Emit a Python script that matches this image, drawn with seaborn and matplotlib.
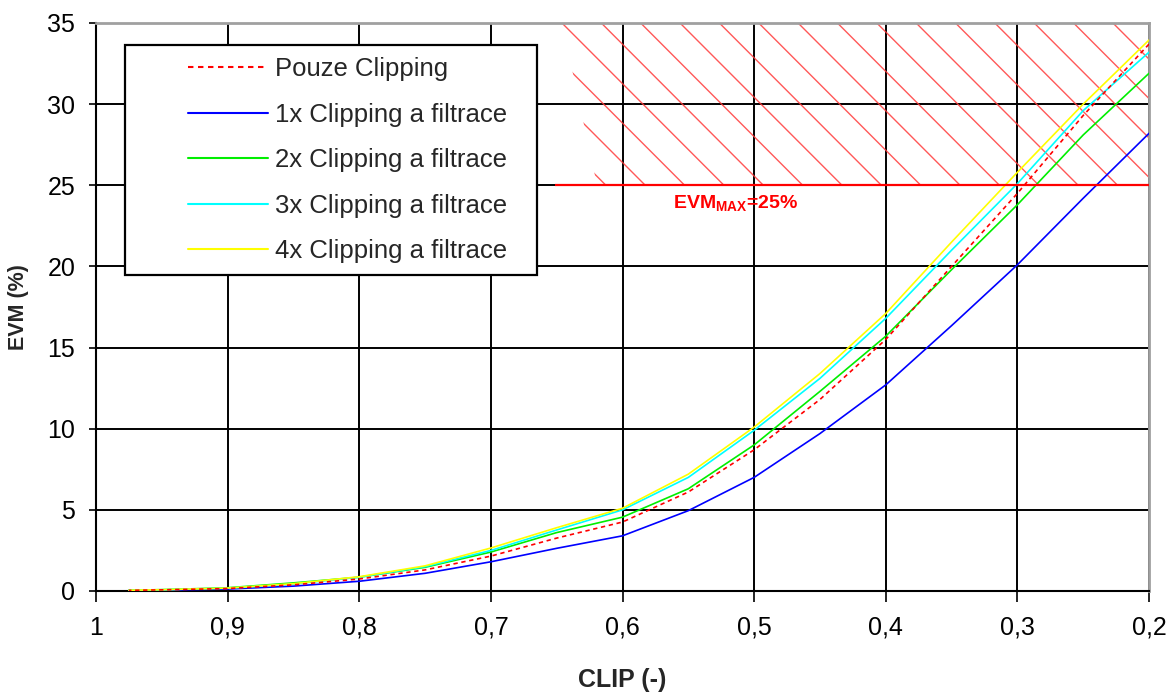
import numpy as np
import pandas as pd
import matplotlib
matplotlib.use("Agg")
import matplotlib.pyplot as plt
from matplotlib.patches import Rectangle, Polygon
from matplotlib.lines import Line2D
from matplotlib.ticker import FuncFormatter, MultipleLocator
import seaborn as sns

# --- data -------------------------------------------------------------
clip = [0.975, 0.95, 0.90, 0.85, 0.80, 0.75, 0.70, 0.65, 0.60,
        0.55, 0.50, 0.45, 0.40, 0.35, 0.30, 0.25, 0.20]

evm_clip_only = [0.04, 0.07, 0.15, 0.38, 0.74, 1.30, 2.15, 3.26, 4.25,
                 6.10, 8.70, 11.8, 15.5, 20.0, 24.5, 29.3, 33.7]
evm_1x = [0.03, 0.05, 0.12, 0.30, 0.60, 1.09, 1.80, 2.63, 3.40,
          4.95, 7.00, 9.70, 12.7, 16.35, 20.1, 24.2, 28.2]
evm_2x = [0.05, 0.08, 0.20, 0.50, 0.85, 1.46, 2.40, 3.60, 4.55,
          6.30, 9.00, 12.3, 15.7, 19.8, 23.8, 28.1, 31.9]
evm_3x = [0.05, 0.08, 0.17, 0.43, 0.85, 1.50, 2.50, 3.76, 5.00,
          7.00, 9.90, 13.1, 16.8, 21.0, 25.1, 29.6, 33.2]
evm_4x = [0.05, 0.08, 0.18, 0.45, 0.88, 1.55, 2.65, 3.90, 5.10,
          7.20, 10.1, 13.4, 17.1, 21.5, 25.8, 30.0, 33.95]

series_names = ["Pouze Clipping", "1x Clipping a filtrace", "2x Clipping a filtrace",
                "3x Clipping a filtrace", "4x Clipping a filtrace"]
series_values = [evm_clip_only, evm_1x, evm_2x, evm_3x, evm_4x]
series_colors = ["#ff0000", "#0000ff", "#00ee00", "#00ffff", "#ffff00"]

evm_max = 25               # EVM limit (%)
limit_clip = (0.651, 0.2)  # CLIP range of the forbidden zone
y_range = (0, 35)

xticks = [1.0, 0.9, 0.8, 0.7, 0.6, 0.5, 0.4, 0.3, 0.2]

# --- style ------------------------------------------------------------
sns.set_theme(style="white")
plt.rcParams["font.family"] = ["Liberation Sans", "DejaVu Sans"]
plt.rcParams["mathtext.fontset"] = "custom"
plt.rcParams["mathtext.rm"] = "Liberation Sans:bold"
plt.rcParams["mathtext.default"] = "rm"

W, H = 1173, 693
fig = plt.figure(figsize=(W / 100, H / 100), dpi=100)
fig.patch.set_facecolor("white")
ax = fig.add_axes([96 / W, (H - 591) / H, 1053 / W, 568 / H])
ax.set_facecolor("white")

df = pd.DataFrame({name: vals for name, vals in zip(series_names, series_values)})
df["clip"] = clip
long = df.melt(id_vars="clip", var_name="series", value_name="evm")

dash = (0, (2.6, 2.2))
# solid curves first, dashed reference curve on top
for i in [1, 2, 3, 4, 0]:
    sub = long[long["series"] == series_names[i]]
    sns.lineplot(data=sub, x="clip", y="evm", color=series_colors[i],
                 linewidth=1.2, linestyle=dash if i == 0 else "-",
                 ax=ax, zorder=3, legend=False)

ax.set_xlim(1.0, 0.2)
ax.set_ylim(*y_range)

# forbidden zone above the EVM limit, hatched with 45 degree lines
zone = Polygon([(0.646, y_range[1]), (limit_clip[1], y_range[1]),
                (limit_clip[1], evm_max), (0.619, evm_max)],
               closed=True, transform=ax.transData, facecolor="none", edgecolor="none")
ax.add_patch(zone)
step = 0.0299   # spacing of hatch lines along the top edge
drift = 0.1231  # horizontal drift of one hatch line over the zone height
for k in range(-16, 6):
    x0 = 0.646 + k * step
    ln = Line2D([x0, x0 - drift], [y_range[1], evm_max], color="#ff3b3b",
                linewidth=1.0, alpha=0.85, zorder=2.5)
    ax.add_line(ln)
    ln.set_clip_path(zone)

ax.hlines(evm_max, limit_clip[0], limit_clip[1], color="#ff0000", linewidth=1.6, zorder=3.5)
ax.text(0.5615, 23.9, r"$EVM_{MAX}$=25%", color="#ff0000", fontsize=14,
        fontweight="bold", ha="left", va="center", zorder=4)

# grid and axes
ax.set_xticks(xticks)
ax.yaxis.set_major_locator(MultipleLocator(5))
ax.grid(True, color="black", linewidth=1.4)
ax.set_axisbelow(True)
ax.xaxis.set_major_formatter(FuncFormatter(lambda v, p: f"{v:g}".replace(".", ",")))
ax.tick_params(axis="x", direction="out", length=8, width=1.2, colors="black",
               labelsize=18, pad=10, bottom=True)
ax.tick_params(axis="y", direction="out", length=5, width=1.2, colors="black",
               labelsize=18, pad=10, left=True)
for s in ["left", "bottom"]:
    ax.spines[s].set_color("black")
    ax.spines[s].set_linewidth(1.5)
for s in ["top", "right"]:
    ax.spines[s].set_color("#a0a0a0")
    ax.spines[s].set_linewidth(2.0)

ax.set_xlabel("CLIP (-)", fontsize=18, fontweight="bold", labelpad=20)
ax.set_ylabel("EVM (%)", fontsize=15.5, fontweight="bold", labelpad=13)

# legend with its own frame
frame = Rectangle((0.0275, 0.556), 0.3915, 0.405, transform=ax.transAxes,
                  facecolor="white", edgecolor="black", linewidth=1.6, zorder=4)
ax.add_patch(frame)
handles = [Line2D([], [], color=series_colors[i], linewidth=1.5,
                  linestyle=dash if i == 0 else "-") for i in range(5)]
leg = ax.legend(handles, series_names, loc="upper left",
                bbox_to_anchor=(0.0874, 0.940), frameon=False, fontsize=18.5,
                handlelength=3.1, handletextpad=0.28, labelspacing=0.84,
                borderpad=0, borderaxespad=0)
leg.set_zorder(5)

fig.savefig("out.png", dpi=100, facecolor="white")
